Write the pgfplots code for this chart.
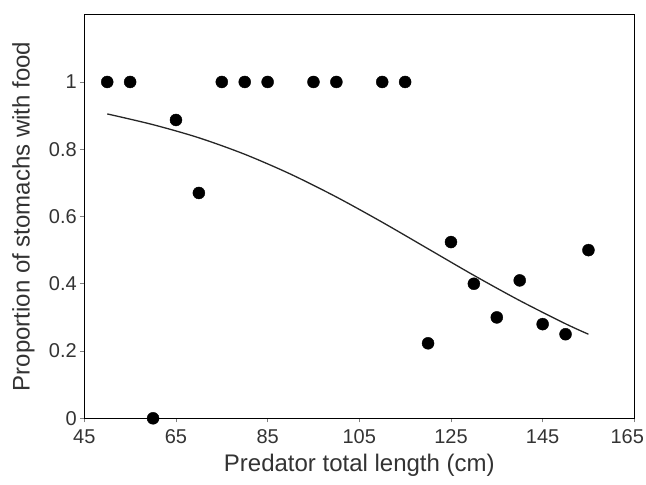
\documentclass[border=0pt]{standalone}
\usepackage{fontspec}
\setmainfont{Liberation Sans}
\usepackage{pgfplots}
\pgfplotsset{compat=1.18}
\begin{document}
\begin{tikzpicture}
\begin{axis}[
  name=ax, at={(0,0)}, anchor=south west,
  scale only axis, width=550bp, height=403.6bp,
  xmin=45, xmax=165, ymin=0, ymax=1.2,
  xtick={45,65,85,105,125,145,165},
  xticklabels={45,65,85,105,125,145,{\hspace*{-14bp}165}},
  ytick={0,0.2,0.4,0.6,0.8,1},
  yticklabels={0,0.2,0.4,0.6,0.8,1},
  tick align=outside, tick pos=left, major tick length=4bp,
  tick style={black!50, line width=0.7bp},
  axis line style={black, line width=0.9bp},
  ticklabel style={font=\fontsize{20bp}{22bp}\selectfont, text=black!80},
  xticklabel style={yshift=-4bp},
  /pgf/number format/assume math mode=true,
  every axis x label/.style={at={(axis description cs:0.5,0)}, anchor=center, yshift=-47bp, font=\fontsize{24bp}{28bp}\selectfont, text=black!80},
  every axis y label/.style={at={(axis description cs:0,0.5)}, anchor=center, xshift=-61bp, rotate=90, font=\fontsize{24bp}{28bp}\selectfont, text=black!80},
  xlabel={Predator total length (cm)},
  ylabel={Proportion of stomachs with food},
  clip=false,
]
\addplot[only marks, mark=*, mark size=6bp, black] coordinates {
  (50,1) (55,1) (60,0) (65,0.887) (70,0.67) (75,1) (80,1) (85,1)
  (95,1) (100,1) (110,1) (115,1) (120,0.223) (125,0.524) (130,0.40)
  (135,0.30) (140,0.41) (145,0.28) (150,0.25) (155,0.50)
};
\addplot[smooth, black!85, line width=1.3bp] coordinates {
  (50,0.905) (60,0.873) (70,0.834) (80,0.785) (90,0.726) (100,0.658)
  (110,0.583) (120,0.504) (130,0.425) (140,0.350) (150,0.281) (155,0.250)
};
\end{axis}
\pgfresetboundingbox
\path (-84.3bp,-66.7bp) rectangle (561.7bp,418.3bp);
\end{tikzpicture}
\end{document}
